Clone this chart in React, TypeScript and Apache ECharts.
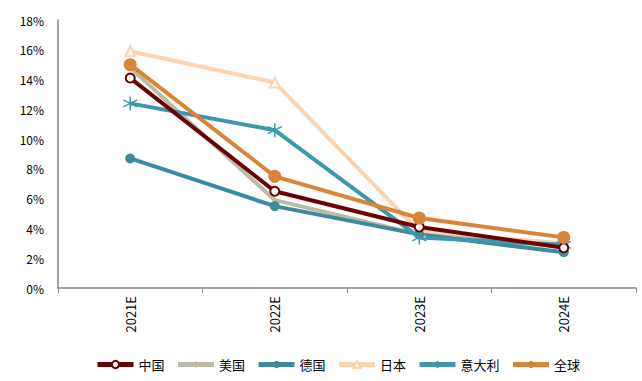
import React, { useEffect, useRef } from "react";
import * as echarts from "echarts";

const categories = ["2021E", "2022E", "2023E", "2024E"];
const china = [14.1, 6.5, 4.1, 2.7];
const usa = [14.8, 5.9, 3.6, 2.8];
const germany = [8.7, 5.5, 3.6, 2.4];
const japan = [15.9, 13.8, 3.8, 3.0];
const italy = [12.4, 10.6, 3.4, 2.9];
const world = [15.0, 7.5, 4.7, 3.4];
const yTicks = [0, 2, 4, 6, 8, 10, 12, 14, 16, 18];

const asterisk =
  "path://M0,-10 L0,10 M-8.66,-5 L8.66,5 M-8.66,5 L8.66,-5";

export default function App() {
  const ref = useRef<HTMLDivElement>(null);
  useEffect(() => {
    document.body.style.margin = "0";
    const chart = echarts.init(ref.current!, undefined, { renderer: "svg" });
    const font = "'Noto Sans CJK SC', 'DejaVu Sans', sans-serif";
    const mk = (
      name: string,
      data: number[],
      color: string,
      symbol: string,
      size: number,
      extra: any = {}
    ) => ({
      name,
      type: "line",
      data,
      symbol,
      symbolSize: size,
      lineStyle: { color, width: 4 },
      itemStyle: { color, ...(extra.itemStyle || {}) },
      z: extra.z ?? 2,
    });
    chart.setOption({
      animation: false,
      textStyle: { fontFamily: font },
      grid: { left: 58, right: 6, top: 20, bottom: 93 },
      legend: {
        left: 90,
        top: 353,
        itemWidth: 36,
        itemHeight: 9,
        itemGap: 11,
        lineStyle: { width: 5 },
        textStyle: { fontSize: 13, color: "#000", fontFamily: font },
        data: ["中国", "美国", "德国", "日本", "意大利", "全球"],
      },
      xAxis: {
        type: "category",
        data: categories,
        boundaryGap: true,
        axisLine: { lineStyle: { color: "#888", width: 1.5 } },
        axisTick: { show: true, length: 5, lineStyle: { color: "#888" } },
        axisLabel: { rotate: 90, color: "#000", fontSize: 13, margin: 8, fontFamily: font },
      },
      yAxis: {
        type: "value",
        min: 0,
        max: 18,
        interval: 2,
        splitLine: { show: false },
        axisLine: { show: true, lineStyle: { color: "#888", width: 1.5 } },
        axisTick: { show: false },
        axisLabel: {
          color: "#000",
          fontSize: 12,
          margin: 14,
          fontFamily: font,
          formatter: (v: number) => (yTicks.includes(v) ? v + "%" : ""),
        },
      },
      series: [
        mk("日本", japan, "#FDD3B0", "emptyTriangle", 10, { itemStyle: { borderWidth: 2 } }),
        mk("美国", usa, "#BDBBA8", "diamond", 5),
        mk("德国", germany, "#3C8A9B", "circle", 10),
        mk("中国", china, "#6B0000", "emptyCircle", 9, { itemStyle: { borderWidth: 1.5 }, z: 3 }),
        mk("意大利", italy, "#3E98AD", asterisk, 14, {
          itemStyle: { borderColor: "#3E98AD", borderWidth: 1.5 },
        }),
        mk("全球", world, "#DB8439", "circle", 13, { z: 4 }),
      ],
    });
    return () => chart.dispose();
  }, []);
  return <div ref={ref} style={{ width: 642, height: 381 }} />;
}
